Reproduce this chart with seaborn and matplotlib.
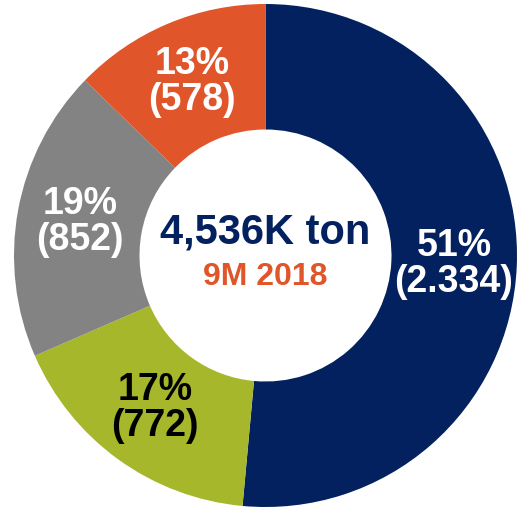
import matplotlib
matplotlib.use("Agg")
import matplotlib.pyplot as plt
import seaborn as sns

# Data
categories = ["Navy", "Olive", "Gray", "Orange"]
values = [2334, 772, 852, 578]
colors = ["#03215E", "#A6B72B", "#838383", "#E0552A"]
text_colors = ["white", "black", "white", "white"]
center_title = "4,536K ton"
center_sub = "9M 2018"

sns.set_theme(style="white")
plt.rcParams["font.family"] = ["Liberation Sans", "DejaVu Sans"]

W, H = 518, 508
cx, cy = 265.5, 255.5
R, r_in = 251.5, 126.0

fig = plt.figure(figsize=(W / 100, H / 100), dpi=100)
ax = fig.add_axes([0, 0, 1, 1])

lbl_iter = iter(values)

def fmt(pct):
    v = next(lbl_iter)
    return f"{round(pct):d}%\n({v:,})".replace(",", ".")

wedges, texts, autotexts = ax.pie(
    values,
    colors=sns.color_palette(colors),
    startangle=90,
    counterclock=False,
    radius=R,
    center=(0, 0),
    autopct=fmt,
    pctdistance=(R + r_in) / 2 / R,
    wedgeprops=dict(width=R - r_in, linewidth=0),
    textprops=dict(fontsize=27, fontweight="bold", linespacing=1.0),
)
for t, c in zip(autotexts, text_colors):
    t.set_color(c)
    t.set_ha("center")
    t.set_va("center")
    t.set_multialignment("center")

ax.text(0, 255.5 - 233, center_title, ha="center", va="center",
        fontsize=30, fontweight="bold", color="#03215E")
ax.text(0, 255.5 - 277, center_sub, ha="center", va="center",
        fontsize=23, fontweight="bold", color="#E0552A")

ax.set_xlim(-cx, W - cx)
ax.set_ylim(-(H - cy), cy)
ax.set_aspect("equal")
ax.axis("off")

fig.savefig("out.png", dpi=100, facecolor="white")
